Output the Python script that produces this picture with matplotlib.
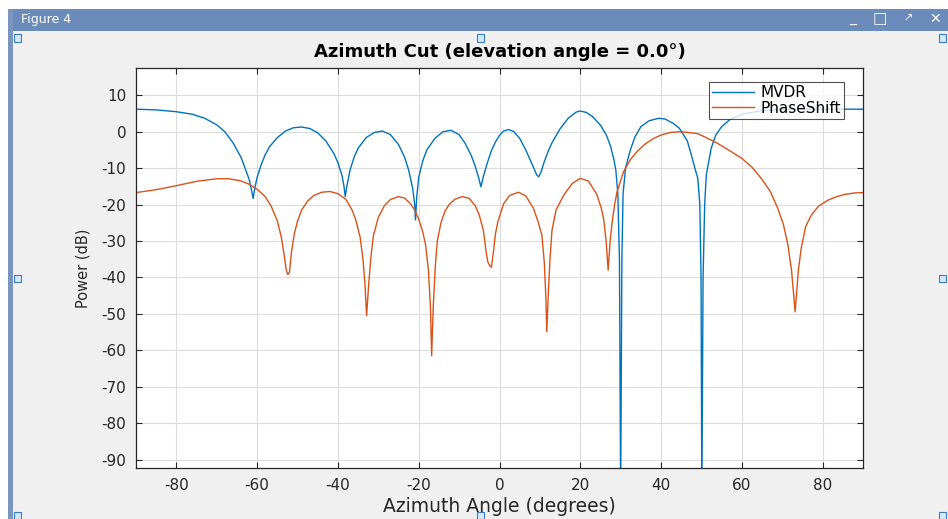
import numpy as np
import matplotlib
matplotlib.use('Agg')
import matplotlib.pyplot as plt
from matplotlib.patches import Rectangle

# --- values (azimuth in degrees, power in dB) ---
mvdr_az = [-90, -85, -80, -76, -73, -70, -68, -66, -64, -63, -62, -61.5, -61, -60.5,
           -60, -59, -58, -57, -55, -53, -51, -49, -47, -45, -43, -41, -40, -39,
           -38.5, -38.2, -37.8, -37, -36, -35, -33, -31, -29, -27, -25, -23.5, -22.5,
           -21.5, -21, -20.8, -20.5, -20, -19, -18, -16, -14, -12, -10, -8.5, -7, -6,
           -5.2, -4.6, -4, -3, -2, -1, 0, 1, 2.2, 3.5, 5, 6.5, 7.5, 8.5, 9.2, 9.7,
           10.3, 11, 12, 13, 15, 17, 19, 20, 21.5, 23, 25, 26.5, 27.5, 28.3, 28.8,
           29.3, 29.7, 30, 30.3, 30.6, 31.2, 32.4, 33.5, 35, 37, 39.4, 41, 43, 44.5,
           46.5, 47.5, 48.5, 49.1, 49.6, 49.9, 50.1, 50.4, 50.8, 51.2, 52.4, 53.5, 55,
           57, 60, 65, 70, 80, 90]
mvdr_db = [6.2, 6.0, 5.5, 4.8, 3.7, 1.9, 0.0, -3.0, -7.0, -10.0, -13.0, -15.5, -18.3, -15.0,
           -12.5, -9.0, -6.3, -4.2, -1.6, 0.2, 1.1, 1.3, 0.9, -0.3, -2.5, -6.0, -8.5, -12.0,
           -15.0, -17.8, -15.0, -10.5, -7.0, -4.5, -1.6, -0.2, 0.2, -0.8, -3.5, -7.0, -10.5,
           -15.5, -20.0, -24.2, -18.0, -12.5, -8.0, -5.0, -1.8, 0.0, 0.4, -0.8, -3.2, -6.5, -9.5,
           -12.5, -15.1, -12.3, -8.5, -5.2, -2.8, -1.0, 0.2, 0.6, 0.1, -1.8, -5.0, -7.5, -10.0, -11.8, -12.4,
           -11.0, -8.5, -5.5, -3.0, 0.8, 3.7, 5.4, 5.7, 5.3, 4.2, 1.8, -1.0, -4.0, -7.5, -10.5,
           -17.0, -35.0, -100.0, -35.0, -17.0, -10.0, -5.0, -1.5, 1.4, 3.0, 3.7, 3.5, 2.3, 1.0,
           -2.5, -6.4, -10.5, -12.8, -20.0, -40.0, -100.0, -40.0, -20.0, -11.9, -4.6, -1.0, 1.4,
           3.3, 4.8, 5.8, 6.1, 6.2, 6.2]

ps_az = [-90, -85, -80, -75, -70, -67, -64, -62, -60, -58, -56.5, -55, -54, -53.3, -52.8,
         -52.4, -52, -51.5, -50.8, -50, -49, -47.5, -46, -44, -42, -40, -38, -36.5, -35.5,
         -34.5, -33.8, -33.3, -32.9, -32.4, -31.8, -31.2, -30, -28.5, -27, -25, -23.5, -22,
         -21, -20, -19, -18.3, -17.6, -17.1, -16.8, -16.4, -15.9, -15.4, -14.5, -13.5, -12.5,
         -11, -9.2, -7.5, -6, -5, -4, -3.3, -2.9, -2.5, -2, -1.5, -1, -0.4, 1, 2.5, 4.7, 6.5,
         8.4, 9.5, 10.5, 11.1, 11.5, 11.7, 12.1, 12.5, 13, 14, 15.9, 18, 20, 22, 24.1, 25.2,
         25.8, 26.4, 26.9, 27.4, 27.9, 28.5, 29.1, 30.7, 32.5, 34, 36, 38.2, 40, 42.3, 44.5,
         46, 49, 51, 54, 57, 60, 62.5, 64.8, 67, 68.9, 70.3, 71.4, 72.3, 73.2, 74, 74.7, 75.8,
         77.2, 79, 81.3, 83.5, 85.5, 88, 90]
ps_db = [-16.7, -15.9, -14.8, -13.6, -12.9, -12.9, -13.5, -14.4, -15.8, -17.8, -20.5, -24.5, -29.0, -34.0, -38.0,
         -39.2, -38.5, -33.0, -28.0, -24.5, -21.5, -19.0, -17.5, -16.6, -16.4, -17.0, -18.6, -21.5, -24.5,
         -29.0, -35.0, -42.0, -50.5, -42.0, -34.0, -28.4, -23.5, -20.3, -18.6, -17.8, -18.2, -19.8,
         -21.5, -24.0, -27.5, -31.0, -38.0, -48.0, -61.5, -48.0, -37.0, -30.0, -25.0, -21.8, -20.0,
         -18.5, -17.8, -18.3, -20.3, -22.9, -27.0, -33.0, -35.7, -36.6, -37.2, -33.0, -28.0, -24.7, -19.8, -17.5, -16.6, -17.6,
         -21.0, -24.5, -28.4, -36.0, -46.0, -54.9, -44.0, -35.0, -27.0, -21.5, -17.4, -14.2, -12.8, -13.5, -17.2, -21.0,
         -24.0, -30.0, -38.0, -30.0, -24.7, -20.0, -16.5, -11.0, -7.5, -5.5, -3.4, -1.8, -0.9, -0.2, 0.0,
         -0.1, -0.5, -1.5, -3.2, -5.2, -7.3, -9.7, -12.8, -16.3, -21.0, -25.5, -31.0, -38.0, -49.4, -38.0, -32.0, -26.0,
         -22.9, -20.4, -18.8, -17.8, -17.2, -16.8, -16.7]

x_ticks = [-80, -60, -40, -20, 0, 20, 40, 60, 80]
y_ticks = [10, 0, -10, -20, -30, -40, -50, -60, -70, -80, -90]

W, H = 948, 519
plt.rcParams['font.family'] = ['DejaVu Sans']
plt.rcParams['axes.unicode_minus'] = False

fig = plt.figure(figsize=(W / 100, H / 100), dpi=100, facecolor='white')


def box(x, y, w, h, z=-5, **kw):
    # rectangle in pixel coords, y from the top
    fig.patches.append(Rectangle((x / W, 1 - (y + h) / H), w / W, h / H,
                                 transform=fig.transFigure, figure=fig, zorder=z, **kw))


# window frame (MATLAB figure window screenshot)
box(8, 9, 940, 510, facecolor='#f0f0f0', edgecolor='none')
box(8, 9, 940, 22, facecolor='#6b8cba', edgecolor='none')
box(8, 9, 5, 510, facecolor='#7b96bc', edgecolor='none')
fig.text(21 / W, 1 - 20 / H, 'Figure 4', color='white', fontsize=9, va='center', ha='left')
for cx, s, fs in [(853, '_', 10), (880, '\u25a1', 11), (908, '\u2197', 8), (935, '\u2715', 10)]:
    fig.text(cx / W, 1 - 19 / H, s, color='white', fontsize=fs, va='center', ha='center')
for hx, hy in [(17, 38), (480, 38), (942, 38), (17, 278), (942, 278), (17, 515), (480, 515), (942, 515)]:
    box(hx - 3.5, hy - 3.5, 7, 7, z=2, facecolor='#d6e8f7', edgecolor='#3b7bc8', linewidth=0.8)

ax = fig.add_axes([136 / W, 1 - 468 / H, 727 / W, 400 / H])
ax.set_facecolor('white')
ax.plot(mvdr_az, mvdr_db, color='#0072BD', linewidth=1.0, label='MVDR')
ax.plot(ps_az, ps_db, color='#D95319', linewidth=1.0, label='PhaseShift')

ax.set_xlim(-90, 90)
ax.set_ylim(-92.3, 17.5)
ax.set_xticks(x_ticks)
ax.set_yticks(y_ticks)
ax.grid(True, color='#dcdcdc', linewidth=0.8)
ax.set_axisbelow(True)
ax.tick_params(direction='in', length=4, width=0.8, colors='#262626', labelsize=11,
               top=True, right=True, pad=7)
for sp in ax.spines.values():
    sp.set_color('#262626')
    sp.set_linewidth(0.9)

ax.set_title('Azimuth Cut (elevation angle = 0.0\u00b0)', fontsize=13, fontweight='bold', pad=8)
ax.set_xlabel('Azimuth Angle (degrees)', fontsize=13.5, color='#262626', labelpad=3)
ax.set_ylabel('Power (dB)', fontsize=10.5, color='#262626', labelpad=8)

leg = ax.legend(loc='upper right', bbox_to_anchor=(0.974, 0.965), borderaxespad=0,
                fontsize=11, frameon=True, fancybox=False, handlelength=2.8,
                handletextpad=0.4, borderpad=0.2, labelspacing=0.05)
leg.get_frame().set_edgecolor('#262626')
leg.get_frame().set_linewidth(0.8)

fig.savefig('out.png', dpi=100)
